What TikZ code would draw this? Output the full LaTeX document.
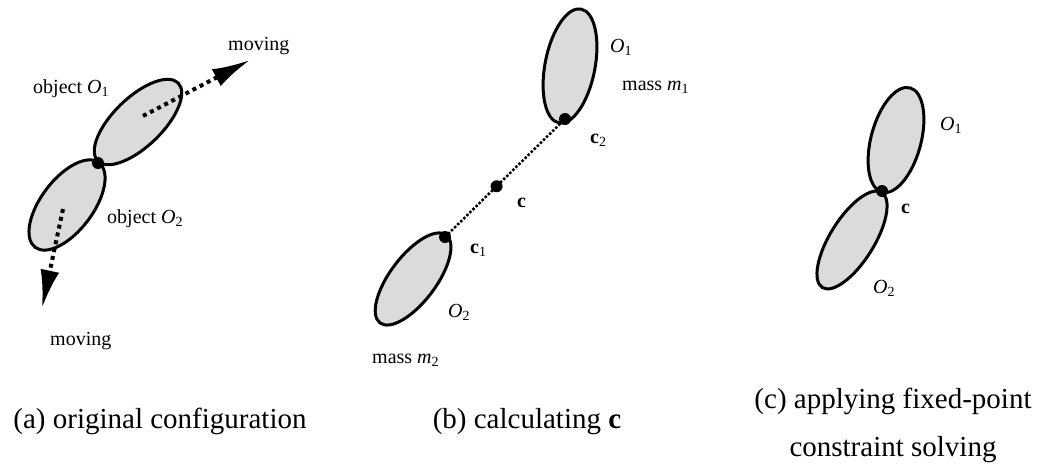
\documentclass[tikz,border=0pt]{standalone}
\usepackage{amsmath}
\usepackage{fontspec}
\setmainfont{Liberation Serif}
\usepackage{tikz}
\usetikzlibrary{arrows.meta, calc}
\tikzset{
	objshape/.style={line width=3pt, fill=black!14}
}
\tikzset{
	movearrow/.style={line width=4pt, dash pattern=on 4pt off 4pt, -{Latex[length=38pt,width=19pt]}},
	linkline/.style={line width=2.5pt, dash pattern=on 2.5pt off 1.8pt}
}
\tikzset{
	labeltext/.style={font=\fontsize{20}{24}\selectfont, inner sep=0pt, anchor=base west},
	captiontext/.style={font=\fontsize{29}{48}\selectfont, inner sep=0pt, anchor=base, align=center}
}
\newcommand{\objname}[2]{\textit{#1}$_{\text{#2}}$}
\newcommand{\ptname}[1]{\textbf{c}$_{\text{#1}}$}

\begin{document}
\begin{tikzpicture}[x=1pt, y=-1pt]
      \useasboundingbox (0,0) rectangle (1038,472);
      % (a) two objects joined at one point, pulled apart
      \coordinate (ao1) at (138,122); \coordinate (ao2) at (67,205);
      \coordinate (ajoin) at (98,163);
      \coordinate (amv1s) at (143,116); \coordinate (amv1e) at (250,60);
      \coordinate (amv2s) at (63,209); \coordinate (amv2e) at (42,308);
      \draw[objshape, rotate around={44:(ao1)}] (ao1) ellipse (56 and 24.5);
      \draw[objshape, rotate around={53:(ao2)}] (ao2) ellipse (53 and 26);
      \draw[movearrow] (amv1s) -- (amv1e);
      \draw[movearrow] (amv2s) -- (amv2e);
      \fill (ajoin) circle (6);
      \node[labeltext] (amove1) at (228,50) {moving};
      \node[labeltext] (aobj1) at (33,93) {object \objname{O}{1}};
      \node[labeltext] (aobj2) at (107,223) {object \objname{O}{2}};
      \node[labeltext] (amove2) at (50,345) {moving};
      \node[captiontext] (capa) at (160,428) {(a) original configuration};
      % (b) the two contact points and their mass centre
      \coordinate (bo1) at (570,66); \coordinate (bo2) at (413,279);
      \coordinate (bc2) at (565,119); \coordinate (bc1) at (445,237);
      \coordinate (bc) at ($(bc1)!0.43!(bc2)$);
      \draw[objshape, rotate around={79:(bo1)}] (bo1) ellipse (58 and 25);
      \draw[objshape, rotate around={53:(bo2)}] (bo2) ellipse (55 and 23);
      \draw[linkline] (bc1) -- (bc2);
      \fill (bc1) circle (6); \fill (bc2) circle (6); \fill (bc) circle (6);
      \node[labeltext] (bobj1) at (610,52) {\objname{O}{1}};
      \node[labeltext] (bmass1) at (622,90) {mass \objname{m}{1}};
      \node[labeltext] (bpt2) at (590,143) {\ptname{2}};
      \node[labeltext] (bpt) at (517,207) {\textbf{c}};
      \node[labeltext] (bpt1) at (470,253) {\ptname{1}};
      \node[labeltext] (bobj2) at (448,317) {\objname{O}{2}};
      \node[labeltext] (bmass2) at (372,363) {mass \objname{m}{2}};
      \node[captiontext] (capb) at (527,428) {(b) calculating \textbf{c}};
      % (c) both objects moved onto c
      \coordinate (co1) at (896,140); \coordinate (co2) at (852,240);
      \coordinate (cjoin) at (882,191);
      \draw[objshape, rotate around={75:(co1)}] (co1) ellipse (54 and 25);
      \draw[objshape, rotate around={58:(co2)}] (co2) ellipse (56 and 22);
      \fill (cjoin) circle (6);
      \node[labeltext] (cobj1) at (940,130) {\objname{O}{1}};
      \node[labeltext] (cpt) at (901,213) {\textbf{c}};
      \node[labeltext] (cobj2) at (873,293) {\objname{O}{2}};
      \node[captiontext] (capc) at (893,456) {(c) applying fixed-point\\constraint solving};
    \end{tikzpicture}
\end{document}
